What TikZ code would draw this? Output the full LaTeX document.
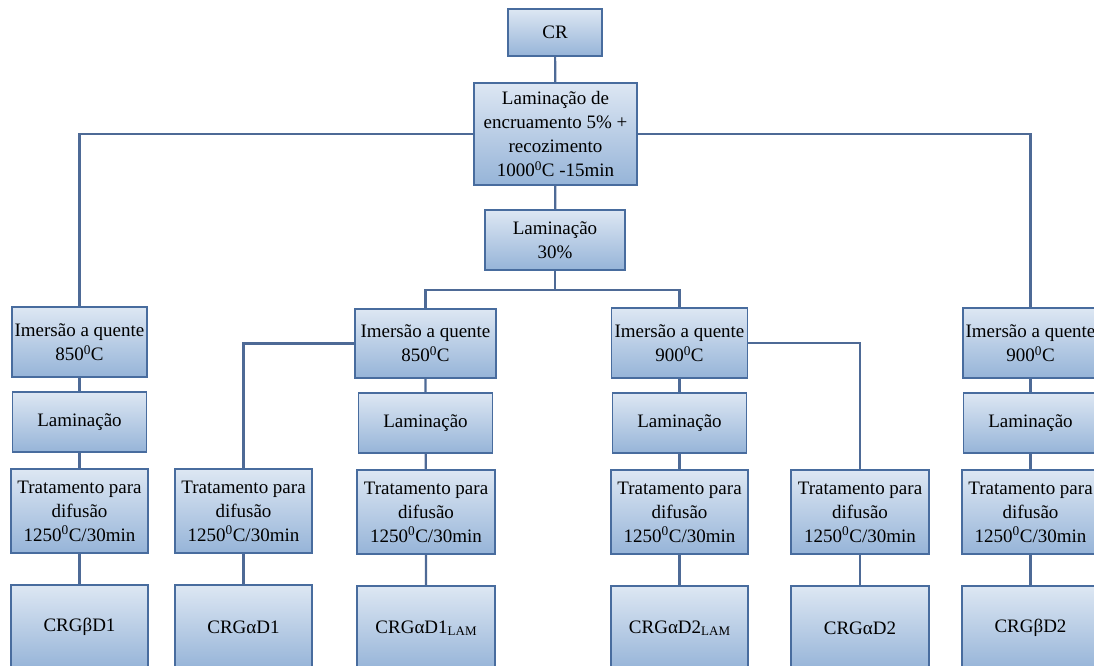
\documentclass[tikz,border=0pt]{standalone}
\usepackage{fontspec}
\setmainfont{Liberation Serif}
\usepackage{xcolor}
\definecolor{boxtop}{RGB}{221,231,243}
\definecolor{boxbot}{RGB}{150,180,216}
\definecolor{boxline}{RGB}{72,108,158}
\definecolor{linkline}{RGB}{78,106,150}
\newcommand{\grau}{\textsuperscript{0}}
\newcommand{\lam}{{\fontsize{13}{13}\selectfont\raisebox{-1.5pt}{LAM}}}

\begin{document}
\begin{tikzpicture}[x=1pt, y=-1pt,
    box/.style={draw=boxline, line width=1.4pt, top color=boxtop, bottom color=boxbot,
      align=center, inner sep=0pt, font=\fontsize{19}{24}\selectfont},
    link/.style={draw=linkline, line width=2.2pt}]
  \useasboundingbox (0,0) rectangle (1094,666);

  % top of the chain
  \node[box, minimum width=94, minimum height=47] (cr) at (555,32.5) {CR};
  \node[box, minimum width=163, minimum height=102] (enc) at (555.5,134)
    {Laminação de\\encruamento 5\% +\\recozimento\\1000\grau C -15min};
  \node[box, minimum width=140, minimum height=60] (lam30) at (555,240) {Laminação\\30\%};
  \draw[link] (cr) -- (enc);
  \draw[link] (enc) -- (lam30);

  % outer branches
  \node[box, minimum width=135, minimum height=70] (im1) at (79.5,342) {Imersão a quente\\850\grau C};
  \node[box, minimum width=134, minimum height=60] (la1) at (79.5,422) {Laminação};
  \node[box, minimum width=137, minimum height=84] (tr1) at (79.5,511) {Tratamento para\\difusão\\1250\grau C/30min};
  \node[box, minimum width=137, minimum height=84] (cg1) at (79.5,627) {CRGβD1};

  \node[box, minimum width=135, minimum height=70] (im6) at (1030.5,343) {Imersão a quente\\900\grau C};
  \node[box, minimum width=134, minimum height=60] (la6) at (1030.5,423) {Laminação};
  \node[box, minimum width=137, minimum height=84] (tr6) at (1030.5,512) {Tratamento para\\difusão\\1250\grau C/30min};
  \node[box, minimum width=137, minimum height=84] (cg6) at (1030.5,628) {CRGβD2};

  \draw[link] (enc.west) -| (im1.north);
  \draw[link] (enc.east) -| (im6.north);
  \draw[link] (im1) -- (la1) -- (tr1) -- (cg1);
  \draw[link] (im6) -- (la6) -- (tr6) -- (cg6);

  % inner branches
  \node[box, minimum width=141, minimum height=69] (im2) at (425.5,343.5) {Imersão a quente\\850\grau C};
  \node[box, minimum width=137, minimum height=84] (tr2) at (243.5,511) {Tratamento para\\difusão\\1250\grau C/30min};
  \node[box, minimum width=137, minimum height=84] (cg2) at (243.5,627) {CRGαD1};
  \node[box, minimum width=134, minimum height=60] (la3) at (425.5,423) {Laminação};
  \node[box, minimum width=138, minimum height=84] (tr3) at (426,512) {Tratamento para\\difusão\\1250\grau C/30min};
  \node[box, minimum width=138, minimum height=84] (cg3) at (426,628) {CRGαD1\lam};

  \node[box, minimum width=136, minimum height=70] (im4) at (679.5,343) {Imersão a quente\\900\grau C};
  \node[box, minimum width=134, minimum height=60] (la4) at (679.5,423) {Laminação};
  \node[box, minimum width=137, minimum height=84] (tr4) at (679.5,512) {Tratamento para\\difusão\\1250\grau C/30min};
  \node[box, minimum width=137, minimum height=84] (cg4) at (679.5,628) {CRGαD2\lam};
  \node[box, minimum width=138, minimum height=84] (tr5) at (860,512) {Tratamento para\\difusão\\1250\grau C/30min};
  \node[box, minimum width=138, minimum height=84] (cg5) at (860,628) {CRGαD2};

  \coordinate (split) at ([yshift=-19]lam30.south);
  \draw[link] (lam30) -- (split) -| (im2.north);
  \draw[link] (split) -| (im4.north);
  \draw[link] (im2.west) -| (tr2.north);
  \draw[link] (tr2) -- (cg2);
  \draw[link] (im2) -- (la3) -- (tr3) -- (cg3);
  \draw[link] (im4.east) -| (tr5.north);
  \draw[link] (tr5) -- (cg5);
  \draw[link] (im4) -- (la4) -- (tr4) -- (cg4);
\end{tikzpicture}
\end{document}
